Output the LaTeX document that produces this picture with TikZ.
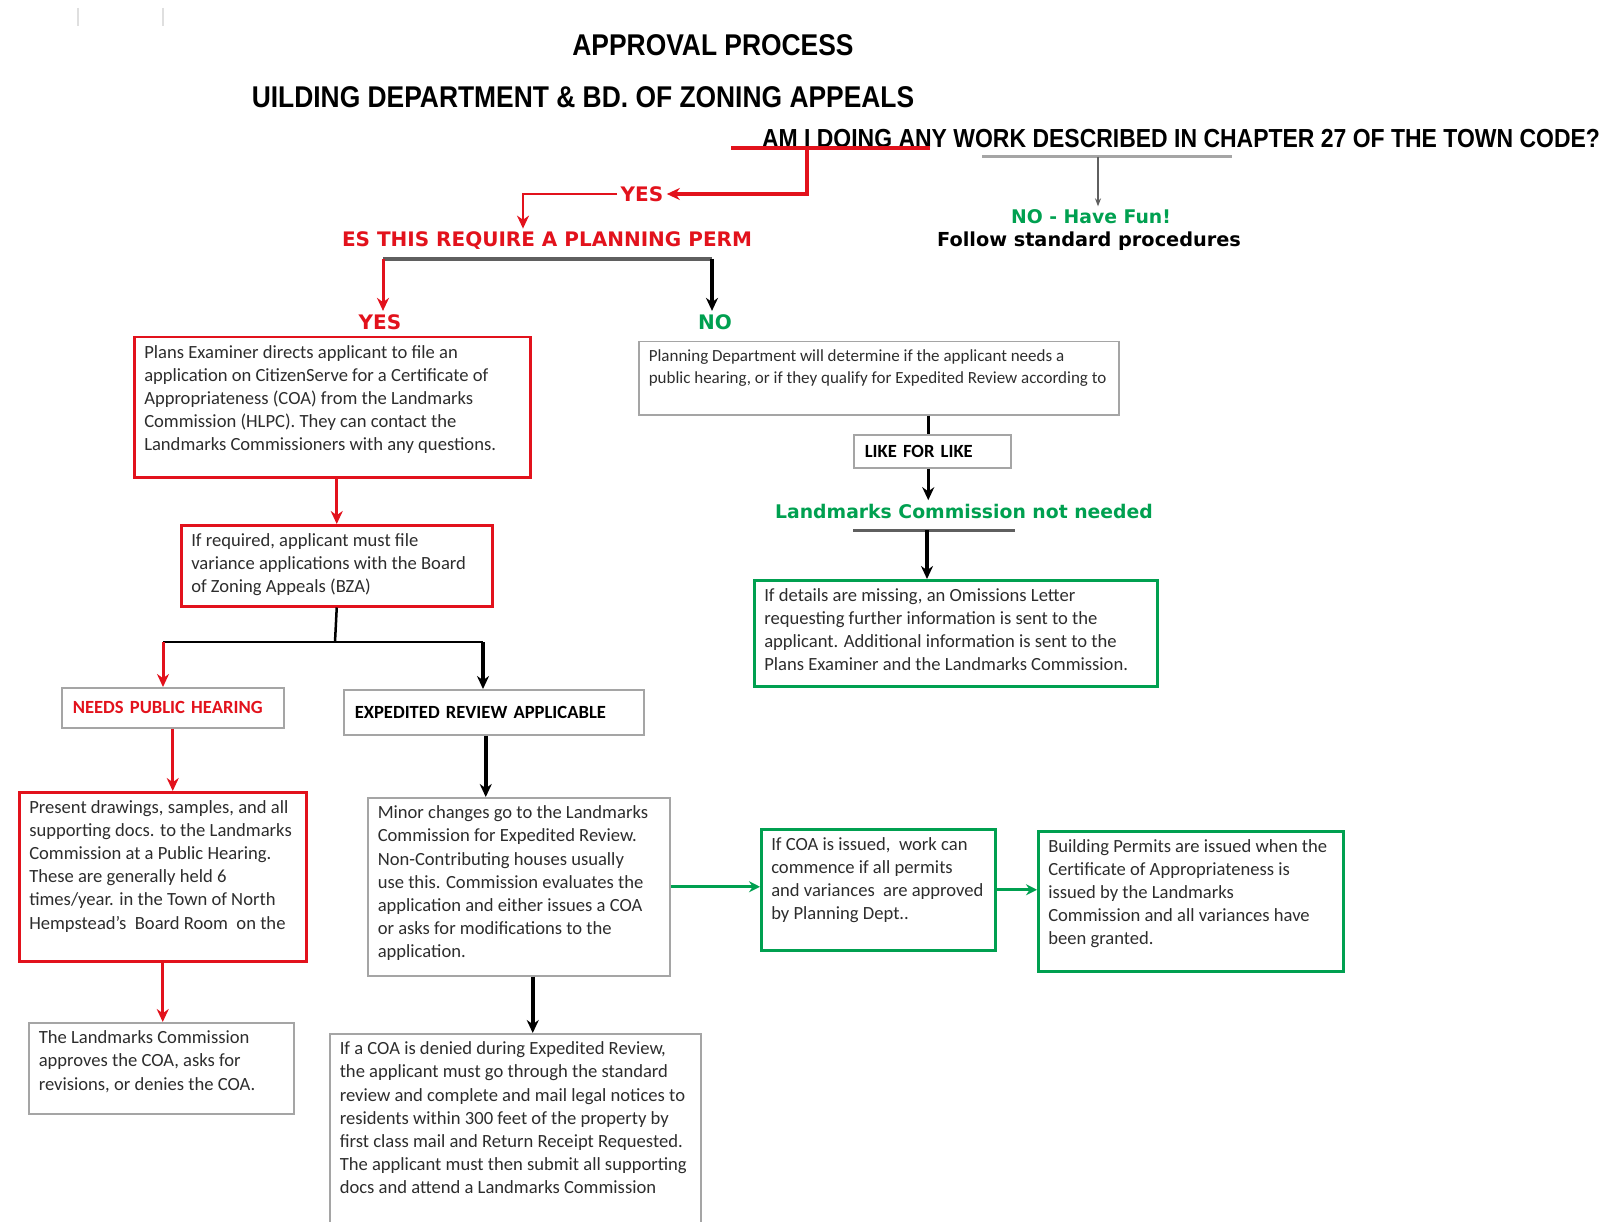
\documentclass[tikz,border=0pt]{standalone}
\usepackage{fontspec}
\setmainfont{Carlito}
\newfontfamily\headfont[FakeStretch=0.88]{Liberation Sans}
\newfontfamily\blockfont{DejaVu Sans}
\usetikzlibrary{arrows.meta}
\definecolor{apred}{RGB}{226,18,28}
\definecolor{apgreen}{RGB}{0,160,80}
\definecolor{apgrey}{RGB}{165,165,165}
\definecolor{apdark}{RGB}{95,95,95}
\definecolor{aptext}{RGB}{45,45,45}
\newcommand{\boxfont}{\fontsize{18.6}{23.2}\selectfont}
\newcommand{\boxtext}[3]{\parbox[t][#2pt][t]{#1pt}{\raggedright #3}}
\tikzstyle{redarrow} = [-{Stealth[length=13pt,width=12pt]},draw=apred,line width=3pt]
\tikzstyle{blackarrow} = [-{Stealth[length=13pt,width=12pt]},line width=3.5pt]
\tikzstyle{greenarrow} = [-{Stealth[length=11pt,width=11pt]},draw=apgreen,line width=3pt]
\tikzstyle{box} = [draw,anchor=north west,inner xsep=10pt,inner ysep=8pt,font=\boxfont,text=aptext]
\tikzstyle{redbox} = [box,draw=apred,line width=2.5pt]
\tikzstyle{greybox} = [box,draw=apgrey,line width=1.5pt]
\tikzstyle{greenbox} = [box,draw=apgreen,line width=2.5pt]
\tikzstyle{labelbox} = [draw=apgrey,line width=1.5pt,anchor=north west,inner xsep=10pt,align=left,font=\fontsize{18.6}{22}\selectfont\bfseries]
\tikzstyle{heading} = [font=\headfont\bfseries\fontsize{30}{36}\selectfont]
\tikzstyle{blocky} = [font=\blockfont\bfseries\fontsize{20}{24}\selectfont]

\begin{document}
\begin{tikzpicture}[x=1pt,y=-1pt]
  \useasboundingbox (0,0) rectangle (1624,1222);
  \draw[gray!25,line width=1.5pt] (78,8) -- (78,26) (163,8) -- (163,26);

  % headings
  \node[heading] (title) at (713,45) {APPROVAL PROCESS};
  \node[heading] (subtitle) at (583,97) {UILDING DEPARTMENT \& BD. OF ZONING APPEALS};
  \node[heading,font=\headfont\bfseries\fontsize{26.1}{30}\selectfont] (q1) at (1181,139) {AM I DOING ANY WORK DESCRIBED IN CHAPTER 27 OF THE TOWN CODE?};
  \node[blocky] [text=apred] (yes1) at (642,194) {YES};
  \node[blocky] [text=apred] (q2) at (547,241) {ES THIS REQUIRE A PLANNING PERM};
  \node[blocky] [text=apred] (yes2) at (380,322) {YES};
  \node[blocky] [text=apgreen] (no2) at (715,322) {NO};
  \node[blocky,text=apgreen,font=\blockfont\bfseries\fontsize{18.8}{22}\selectfont] (havefun) at (1091,217) {NO - Have Fun!};
  \node[blocky,font=\blockfont\bfseries\fontsize{19.3}{22}\selectfont] (follow) at (1089,241) {Follow standard procedures};
  \node[blocky,text=apgreen,font=\blockfont\bfseries\fontsize{18.8}{22}\selectfont] (lcnot) at (964,511) {Landmarks Commission not needed};

  % boxes
  \node[redbox] (plans) at (133,336) {\boxtext{376}{124}{Plans Examiner directs applicant to file an\\
    application on CitizenServe for a Certificate of\\ Appropriateness (COA) from the Landmarks\\
    Commission (HLPC). They can contact the\\ Landmarks Commissioners with any questions.}};
  \node[redbox] (bza) at (180,524) {\boxtext{291}{65}{If required, applicant must file\\
    variance applications with the Board\\ of Zoning Appeals (BZA)}};
  \node[labelbox,text=apred,minimum width=222pt,minimum height=40pt,text width=200pt] (nph) at (61,687) {NEEDS PUBLIC HEARING};
  \node[labelbox,minimum width=300pt,minimum height=45pt,text width=278pt] (era) at (343,689) {EXPEDITED REVIEW APPLICABLE};
  \node[redbox] (present) at (18,791) {\boxtext{267}{153}{Present drawings, samples, and all\\
    supporting docs. to the Landmarks\\ Commission at a Public Hearing.\\ These are generally held 6\\
    times/year. in the Town of North\\ Hempstead's~ Board Room~ on the}};
  \node[greybox] (lcapp) at (28,1022) {\boxtext{245}{75}{The Landmarks Commission\\
    approves the COA, asks for\\ revisions, or denies the COA.}};
  \node[greybox] (minor) at (367,797) {\boxtext{282}{162}{Minor changes go to the Landmarks\\
    Commission for Expedited Review.\\ Non-Contributing houses usually\\
    use this. Commission evaluates the\\ application and either issues a COA\\
    or asks for modifications to the\\ application.}};
  \node[greybox] (denied) at (329,1033) {\boxtext{351}{177}{If a COA is denied during Expedited Review,\\
    the applicant must go through the standard\\ review and complete and mail legal notices to\\
    residents within 300 feet of the property by\\ first class mail and Return Receipt Requested.\\
    The applicant must then submit all supporting\\ docs and attend a Landmarks Commission}};
  \node[greenbox] (issued) at (760,828) {\boxtext{214}{105}{If COA is issued,~ work can\\
    commence if all permits\\ and variances~ are approved\\ by Planning Dept..}};
  \node[greenbox] (permits) at (1037,830) {\boxtext{285}{124}{Building Permits are issued when the\\
    Certificate of Appropriateness is\\ issued by the Landmarks\\
    Commission and all variances have\\ been granted.}};
  \node[greybox,font=\fontsize{17}{22}\selectfont] (plandept) at (638,341) {\boxtext{460}{57}{Planning Department will determine if the applicant needs a\\
    public hearing, or if they qualify for Expedited Review according to}};
  \node[labelbox,minimum width=157pt,minimum height=33pt,text width=135pt] (lfl) at (853,434) {LIKE FOR LIKE};
  \node[greenbox] (omis) at (753,579) {\boxtext{383}{90}{If details are missing, an Omissions Letter\\
    requesting further information is sent to the\\ applicant. Additional information is sent to the\\
    Plans Examiner and the Landmarks Commission.}};

  % lines and arrows
  \coordinate (ul1) at (731,148);
  \coordinate (ul2) at (930,148);
  \coordinate (ulred) at (807,148);
  \coordinate (ul3) at (982,157);
  \coordinate (ul4) at (1232,157);
  \coordinate (ulno) at (1098,157);
  \coordinate (br1l) at (383,259);
  \coordinate (br1r) at (712,259);
  \coordinate (split) at (335,642);
  \coordinate (splitl) at (163,642);
  \coordinate (splitr) at (483,642);
  \coordinate (ul5) at (853,530);
  \coordinate (ul6) at (1015,530);
  \coordinate (ullc) at (927,530);

  \draw[apred,line width=3.5pt] (ul1) -- (ul2);
  \draw[redarrow,line width=3.5pt] (ulred) |- (yes1.east);
  \draw[redarrow,line width=2pt] (yes1.west) -| ([xshift=-24pt]q2.north);
  \draw[apgrey,line width=3pt] (ul3) -- (ul4);
  \draw[-{Stealth[length=8pt,width=6pt]},line width=1.5pt,apdark] (ulno) -- (ulno |- havefun.north);
  \draw[apdark,line width=3.5pt] (br1l) -- (br1r);
  \draw[redarrow] (br1l) -- (br1l |- yes2.north);
  \draw[blackarrow] (br1r) -- (br1r |- no2.north);
  \draw[redarrow] (bza.north |- plans.south) -- (bza.north);
  \draw[line width=2.5pt] (bza.south) -- (split);
  \draw[line width=2.5pt] (splitl) -- (splitr);
  \draw[redarrow] (splitl) -- (splitl |- nph.north);
  \draw[blackarrow] (splitr) -- (splitr |- era.north);
  \draw[redarrow] (nph.south) -- (nph.south |- present.north);
  \draw[redarrow] (present.south) -- (present.south |- lcapp.north);
  \draw[blackarrow] ([xshift=-8pt]era.south) -- ([xshift=-8pt]era.south |- minor.north);
  \draw[blackarrow] ([xshift=14pt]minor.south) -- ([xshift=14pt]minor.south |- denied.north);
  \draw[greenarrow] (minor.east) -- (minor.east -| issued.west);
  \draw[greenarrow] (issued.east) -- (issued.east -| permits.west);
  \draw[line width=3.5pt] ([xshift=-4pt]lfl.north |- plandept.south) -- ([xshift=-4pt]lfl.north);
  \draw[blackarrow] ([xshift=-4pt]lfl.south) -- ([xshift=-4pt]lfl.south |- lcnot.north);
  \draw[apdark,line width=3pt] (ul5) -- (ul6);
  \draw[blackarrow] (ullc) -- (ullc |- omis.north);
\end{tikzpicture}
\end{document}
